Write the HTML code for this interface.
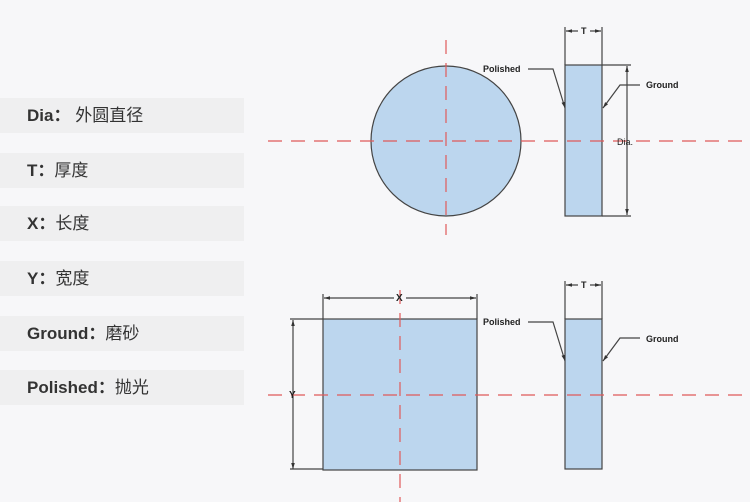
<!DOCTYPE html>
<html><head><meta charset="utf-8"><style>
html,body{margin:0;padding:0}
body{width:750px;height:502px;background:#f7f7f9;position:relative;overflow:hidden;font-family:"Liberation Sans","Noto Sans CJK SC",sans-serif}
.bar{position:absolute;left:0;width:244px;height:35px;background:#efeff0;color:#333;font-size:17px;line-height:35px;padding-left:27px;box-sizing:border-box}
.bar b{font-weight:bold}
svg{position:absolute;left:0;top:0}
</style></head><body>
<div class="bar" style="top:98px"><b>Dia：</b> 外圆直径</div>
<div class="bar" style="top:153px"><b>T：</b>厚度</div>
<div class="bar" style="top:206px"><b>X：</b>长度</div>
<div class="bar" style="top:261px"><b>Y：</b>宽度</div>
<div class="bar" style="top:316px"><b>Ground：</b>磨砂</div>
<div class="bar" style="top:370px"><b>Polished：</b>抛光</div>
<svg width="750" height="502" font-family="Liberation Sans, sans-serif">
<defs><marker id="a" viewBox="0 0 10 10" refX="10" refY="5" markerWidth="5" markerHeight="5" orient="auto-start-reverse"><path d="M0,2L10,5L0,8z" fill="#333"/></marker></defs>
<g stroke="#444" stroke-width="1.2" fill="#bcd6ee">
<circle cx="446" cy="141" r="75"/>
<rect x="565" y="65" width="37" height="151"/>
<rect x="323" y="319" width="154" height="151"/>
<rect x="565" y="319" width="37" height="150"/>
</g>
<g stroke="#444" stroke-width="1.2" fill="none">
<path d="M565 27V65M602 27V65M602 65H631M602 216H631M323 294V319M477 294V319M290 319H323M290 469H323M565 281V319M602 281V319"/>
<path d="M566 31H578M590 31H601" marker-start="url(#a)" marker-end="url(#a)"/>
<path d="M566 285H578M590 285H601" marker-start="url(#a)" marker-end="url(#a)"/>
<path d="M627 66V215" marker-start="url(#a)" marker-end="url(#a)"/>
<path d="M324 298H394M406 298H476" marker-start="url(#a)" marker-end="url(#a)"/>
<path d="M293 320V469" marker-start="url(#a)" marker-end="url(#a)"/>
<path d="M528 69H553L565 108" marker-end="url(#a)"/>
<path d="M640 85H620L603 108" marker-end="url(#a)"/>
<path d="M528 322H553L565 361" marker-end="url(#a)"/>
<path d="M640 338H620L603 361" marker-end="url(#a)"/>
</g>
<g stroke="#e05a5a" stroke-width="1.2" stroke-dasharray="14,9" fill="none">
<path d="M268 141H750M446 40V235M268 395H750M400 290V502"/>
</g>
<g font-size="9" fill="#222" font-weight="bold">
<text x="581" y="34">T</text>
<text x="581" y="288">T</text>
<text x="617" y="145" font-weight="normal">Dia.</text>
<text x="483" y="72">Polished</text>
<text x="646" y="88">Ground</text>
<text x="483" y="325">Polished</text>
<text x="646" y="342">Ground</text>
<text x="396" y="301" font-size="10">X</text>
<text x="289" y="398" font-size="10">Y</text>
</g>
</svg>
</body></html>
